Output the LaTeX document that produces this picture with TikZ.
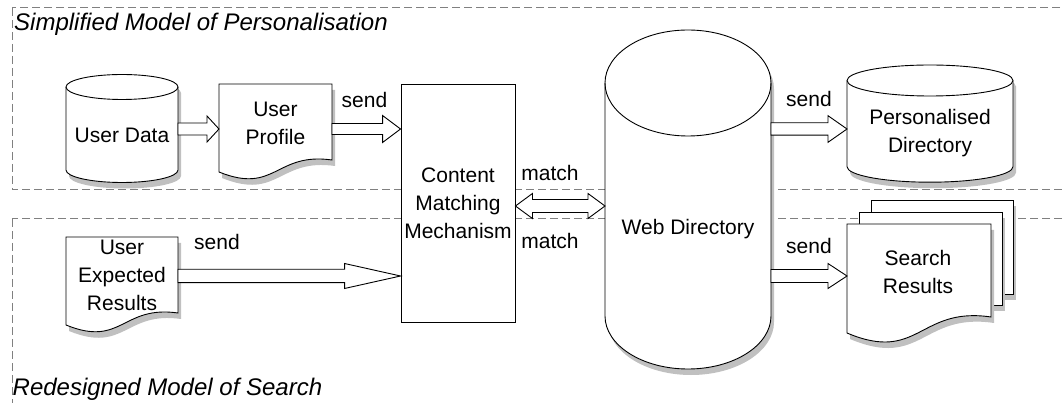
\documentclass[tikz,border=0pt]{standalone}
\usepackage{fontspec}
\setmainfont{Liberation Sans}
\usetikzlibrary{calc,shadows}
\definecolor{framec}{HTML}{808080}
\definecolor{shadowc}{HTML}{C0C0C0}
\tikzset{
  shapeline/.style={draw=black, fill=white, line width=0.9pt, line join=miter},
  shd/.style={general shadow={fill=shadowc, shadow xshift=3pt, shadow yshift=-6pt}},
  arrowline/.style={draw=black, fill=white, line width=0.9pt, line join=miter},
  frame/.style={draw=framec, line width=1pt, dash pattern=on 8pt off 4pt},
  box/.style={inner sep=0pt, outer sep=0pt},
  txt/.style={inner sep=0pt, align=center, font=\fontsize{21}{28}\selectfont},
  lbl/.style={inner sep=0pt, font=\fontsize{21}{28}\selectfont},
  ttl/.style={inner sep=0pt, anchor=base west, font=\fontsize{24}{28}\selectfont\itshape}
}
% cylinder: cx rx ytop ybottom ry
\newcommand{\cylshape}[5]{%
  \path[shapeline, shd]
   ({#1-#2},{#3}) -- ({#1-#2},{#4})
   .. controls ({#1-#2},{#4+0.5523*#5}) and ({#1-0.5523*#2},{#4+#5}) .. ({#1},{#4+#5})
   .. controls ({#1+0.5523*#2},{#4+#5}) and ({#1+#2},{#4+0.5523*#5}) .. ({#1+#2},{#4})
   -- ({#1+#2},{#3})
   .. controls ({#1+#2},{#3-0.5523*#5}) and ({#1+0.5523*#2},{#3-#5}) .. ({#1},{#3-#5})
   .. controls ({#1-0.5523*#2},{#3-#5}) and ({#1-#2},{#3-0.5523*#5}) .. ({#1-#2},{#3}) -- cycle;
  \draw[line width=0.9pt] ({#1-#2},{#3})
   .. controls ({#1-#2},{#3+0.5523*#5}) and ({#1-0.5523*#2},{#3+#5}) .. ({#1},{#3+#5})
   .. controls ({#1+0.5523*#2},{#3+#5}) and ({#1+#2},{#3+0.5523*#5}) .. ({#1+#2},{#3});
}
% document: x0 ytop w yleft amplitude
\newcommand{\docshape}[5]{%
  \path[shapeline, shd]
   ({#1},{#2}) -- ({#1+#3},{#2}) -- ({#1+#3},{#4-#5})
   .. controls ({#1+0.5*#3},{#4-1.67*#5}) and ({#1+0.5*#3},{#4+1.9*#5}) .. ({#1},{#4}) -- cycle;
}
% block arrow: start end shafthalf headhalf headlen
\newcommand{\barrow}[5]{%
  \path[arrowline] let \p1=#1, \p2=#2 in
   (\x1,\y1+#3pt) -- (\x2-#5pt,\y1+#3pt) -- (\x2-#5pt,\y1+#4pt) -- (\x2,\y1)
   -- (\x2-#5pt,\y1-#4pt) -- (\x2-#5pt,\y1-#3pt) -- (\x1,\y1-#3pt) -- cycle;
}
\newcommand{\dbarrow}[5]{%
  \path[arrowline] let \p1=#1, \p2=#2 in
   (\x1,\y1) -- (\x1+#5pt,\y1+#4pt) -- (\x1+#5pt,\y1+#3pt) -- (\x2-#5pt,\y1+#3pt)
   -- (\x2-#5pt,\y1+#4pt) -- (\x2,\y1) -- (\x2-#5pt,\y1-#4pt) -- (\x2-#5pt,\y1-#3pt)
   -- (\x1+#5pt,\y1-#3pt) -- (\x1+#5pt,\y1-#4pt) -- cycle;
}
\begin{document}
\begin{tikzpicture}[x=1pt, y=-1pt]
\useasboundingbox (0,0) rectangle (1063,403);
\clip (0,0) rectangle (1063,403);
\fill[white] (0,0) rectangle (1063,403);

% frames
\draw[frame] (12,8) rectangle (1080,190);
\draw[frame] (12,219) rectangle (1080,420);

% row coordinates
\coordinate (r1) at (0,129);
\coordinate (r2) at (0,276);
\coordinate (r3) at (0,206);

% shape extents
\node[box, minimum width=112, minimum height=108] (ud) at (122,129) {};
\node[box, minimum width=113, minimum height=98] (up) at (275.5,133) {};
\node[box, minimum width=166, minimum height=340] (wd) at (688,200) {};
\node[box, minimum width=166, minimum height=117] (pd) at (930,123.5) {};
\node[box, minimum width=144, minimum height=116] (sr) at (919,282) {};
\node[box, minimum width=112, minimum height=95] (uer) at (122,284.5) {};

% shapes
\cylshape{122}{56}{87}{170}{12.5}
\docshape{219}{84}{113}{172}{12}
\cylshape{688}{83}{83}{316}{53}
\cylshape{930}{83}{80.5}{166.7}{15.5}
\path[shapeline, shd] (871,200) rectangle (1013,294);
\path[shapeline, shd] (859,212) rectangle (1002,305);
\docshape{847}{224}{144}{333}{16}
\docshape{66}{237}{112}{325}{12}
\node[draw=black, fill=white, line width=0.9pt, minimum width=114, minimum height=238,
      inner sep=0pt, align=center, font=\fontsize{21}{28}\selectfont] (cmm) at (458,203)
      {Content\\Matching\\Mechanism};

% arrows
\barrow{(ud.east |- r1)}{(up.west |- r1)}{6}{13}{12}
\barrow{(up.east |- r1)}{(cmm.west |- r1)}{5.5}{13.5}{18}
\barrow{(uer.east |- r2)}{(cmm.west |- r2)}{6.7}{12.5}{56}
\barrow{(wd.east |- r1)}{(pd.west |- r1)}{6.2}{13.3}{19}
\barrow{(wd.east |- r2)}{(sr.west |- r2)}{6.5}{12.5}{19}
\dbarrow{(cmm.east |- r3)}{(wd.west |- r3)}{6.5}{12.5}{17}

% texts
\node[txt] (udt) at (122,135) {User Data};
\node[txt] (upt) at (275.5,123.5) {User\\Profile};
\node[txt] (wdt) at (688,229) {Web Directory};
\node[txt] (pdt) at (930,133) {Personalised\\Directory};
\node[txt] (srt) at (918,271.5) {Search\\Results};
\node[txt] (uert) at (122,275.5) {User\\Expected\\Results};

\node[lbl] (send1) at (364.5,100) {send};
\node[lbl] (send2) at (809,99) {send};
\node[lbl] (send3) at (809,245.5) {send};
\node[lbl] (send4) at (217,242) {send};
\node[lbl] (match1) at (550,172.5) {match};
\node[lbl] (match2) at (550,240.5) {match};

\node[ttl] (t1) at (14,30.5) {Simplified Model of Personalisation};
\node[ttl] (t2) at (12.5,395.5) {Redesigned Model of Search};
\end{tikzpicture}
\end{document}
